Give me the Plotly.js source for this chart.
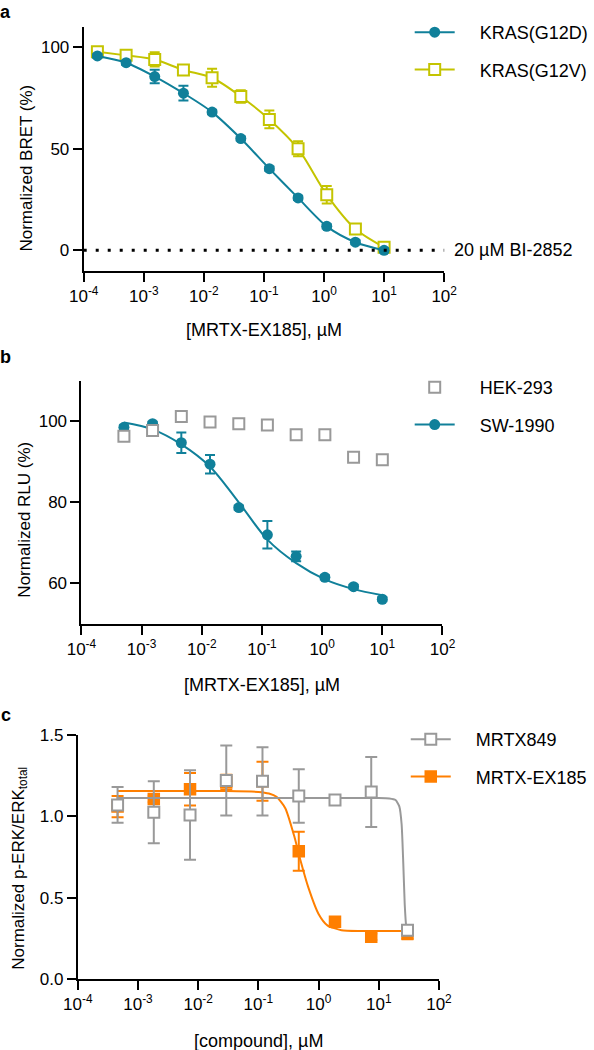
<!DOCTYPE html>
<html><head><meta charset="utf-8">
<script src="https://cdn.plot.ly/plotly-3.0.1.min.js"></script>
<style>html,body{margin:0;padding:0;background:#fff}#chart{width:594px;height:1050px}</style>
</head><body><div id="chart"></div>
<script>
// ---------- shared tick labels ----------
const xTickVals = [1e-4, 1e-3, 1e-2, 1e-1, 1, 10, 100];
const xTickText = ['10<sup>-4</sup>', '10<sup>-3</sup>', '10<sup>-2</sup>', '10<sup>-1</sup>', '10<sup>0</sup>', '10<sup>1</sup>', '10<sup>2</sup>'];

// ---------- panel a : NanoBRET ----------
const concA = [0.000169, 0.000508, 0.00152, 0.00457, 0.0137, 0.0412, 0.123, 0.370, 1.11, 3.33, 10];
const g12dY = [95.6, 92.3, 85.5, 77.3, 68.0, 55.0, 40.2, 25.8, 11.8, 4.0, 0.0];
const g12dErr = [1, 1, 3.3, 3.6, 1, 1, 1, 1, 1, 1, 1];
const g12vY = [97.7, 95.9, 93.9, 88.7, 84.9, 75.7, 64.4, 50.0, 27.3, 10.5, 1.5];
const g12vErr = [1, 1, 3.5, 1, 4.4, 3.1, 4.4, 3.7, 4.3, 1, 1];
const aYTicks = [0, 50, 100];

// ---------- panel b : cell viability ----------
const concB = [0.000508, 0.00152, 0.00457, 0.0137, 0.0412, 0.123, 0.370, 1.11, 3.33, 10];
const swY = [98.5, 99.4, 94.7, 89.4, 78.7, 72.0, 66.7, 61.5, 59.2, 56.1];
const swErr = [0.5, 0.5, 2.5, 2.3, 0.5, 3.4, 1.2, 0.5, 0.5, 0.5];
const hekY = [96.3, 97.7, 101.2, 99.8, 99.4, 99.1, 96.7, 96.7, 91.1, 90.5];
const hekErr = [0.5, 0.5, 1.0, 0.5, 0.5, 0.5, 0.5, 0.5, 0.5, 0.8];
const swFitX = [0.000508, 0.00152, 0.00457, 0.0137, 0.0412, 0.123, 0.370, 1.11, 3.33, 10];
const swFitY = [99.7, 98.0, 94.3, 88.8, 80.0, 70.8, 65.0, 61.0, 58.6, 57.1];
const bYTicks = [60, 80, 100];

// ---------- panel c : p-ERK ----------
const concC = [0.000458, 0.00183, 0.00732, 0.0293, 0.117, 0.469, 1.875, 7.5, 30];
const mrtx849Y = [1.07, 1.025, 1.008, 1.22, 1.215, 1.125, 1.10, 1.15, 0.30];
const mrtx849Err = [0.11, 0.19, 0.275, 0.215, 0.21, 0.165, 0.03, 0.215, 0.03];
const ex185Y = [1.06, 1.106, 1.166, 1.21, 1.216, 0.785, 0.352, 0.26, 0.28];
const ex185Err = [0.065, 0.02, 0.10, 0.045, 0.12, 0.12, 0.02, 0.02, 0.035];
const mrtx849FitX = [0.000458, 1, 10, 15, 19, 22, 24, 25.5, 27, 28.5, 30];
const mrtx849FitY = [1.113, 1.113, 1.113, 1.11, 1.10, 1.06, 0.95, 0.72, 0.46, 0.33, 0.30];
const ex185FitX = [0.000458, 0.03, 0.1, 0.15, 0.2, 0.28, 0.4, 0.5, 0.68, 1.0, 1.4, 2.4, 5, 30];
const ex185FitY = [1.155, 1.155, 1.15, 1.14, 1.12, 1.05, 0.87, 0.73, 0.56, 0.40, 0.33, 0.30, 0.295, 0.295];
const cYTicks = [0, 0.5, 1.0, 1.5];

// ---------- style ----------
const TEAL = '#10809A', YEL = '#C4C400', GRAY = '#999999', ORG = '#FF7F00';
const FONT = 'Arial, "Liberation Sans", sans-serif';
const FS = 17, FT = 18;
const W = 594, H = 1050;
const px = v => v / W, py = v => 1 - v / H;
const PAD = '\u00a0\u00a0\u00a0\u00a0';

function xAxis(l, r, anchor) {
  return {type: 'log', range: [-4, 2], domain: [px(l), px(r)], anchor: anchor,
    tickmode: 'array', tickvals: xTickVals, ticktext: xTickText,
    ticks: 'outside', ticklen: 9, tickwidth: 2, tickcolor: '#000',
    showline: true, linewidth: 2, linecolor: '#000', showgrid: false, zeroline: false,
    tickfont: {size: FS, color: '#000', family: FONT}, fixedrange: true};
}
function yAxis(top, bottom, anchor, range, tv, fmt) {
  return {range: range, domain: [py(bottom), py(top)], anchor: anchor,
    tickmode: 'array', tickvals: tv, tickformat: fmt,
    ticks: 'outside', ticklen: 9, tickwidth: 2, tickcolor: '#000',
    showline: true, linewidth: 2, linecolor: '#000', showgrid: false, zeroline: false,
    tickfont: {size: FS, color: '#000', family: FONT}, fixedrange: true};
}
const errStyle = (arr, c, w) => ({type: 'data', array: arr, visible: true, color: c, thickness: 2, width: w});
const sqOpen = (c, s) => ({symbol: 'square', size: s, color: '#fff', line: {color: c, width: 2}});
const sqFill = (c, s) => ({symbol: 'square', size: s, color: c, line: {width: 0}});
const circ = (c, s) => ({symbol: 'circle', size: s, color: c, line: {width: 0}});

const traces = [
  // panel a
  {x: concA, y: g12vY, name: PAD + 'KRAS(G12V)', mode: 'lines+markers', xaxis: 'x', yaxis: 'y',
   line: {color: YEL, width: 2, shape: 'spline', smoothing: 0.8}, marker: sqOpen(YEL, 11),
   error_y: errStyle(g12vErr, YEL, 5), legend: 'legend', legendgroup: 'g12v', legendrank: 2},
  {x: concA, y: g12dY, name: PAD + 'KRAS(G12D)', mode: 'lines+markers', xaxis: 'x', yaxis: 'y',
   line: {color: TEAL, width: 2, shape: 'spline', smoothing: 0.8}, marker: circ(TEAL, 11),
   error_y: errStyle(g12dErr, TEAL, 5), legend: 'legend', legendgroup: 'g12d', legendrank: 1},
  // panel b
  {x: swFitX, y: swFitY, mode: 'lines', xaxis: 'x2', yaxis: 'y2', showlegend: false,
   line: {color: TEAL, width: 2, shape: 'spline', smoothing: 0.9}},
  {x: concB, y: swY, mode: 'markers', xaxis: 'x2', yaxis: 'y2', showlegend: false,
   marker: circ(TEAL, 11), error_y: errStyle(swErr, TEAL, 5)},
  {x: concB, y: hekY, name: PAD + 'HEK-293', mode: 'markers', xaxis: 'x2', yaxis: 'y2',
   marker: sqOpen(GRAY, 11), error_y: errStyle(hekErr, GRAY, 5),
   legend: 'legend2', legendgroup: 'hek', legendrank: 1},
  {x: [null], y: [null], name: PAD + 'SW-1990', mode: 'lines+markers', xaxis: 'x2', yaxis: 'y2',
   line: {color: TEAL, width: 2}, marker: circ(TEAL, 11),
   legend: 'legend2', legendgroup: 'sw', legendrank: 2},
  // panel c
  {x: ex185FitX, y: ex185FitY, mode: 'lines', xaxis: 'x3', yaxis: 'y3', showlegend: false,
   line: {color: ORG, width: 2, shape: 'spline', smoothing: 0.6}},
  {x: concC, y: ex185Y, mode: 'markers', xaxis: 'x3', yaxis: 'y3', showlegend: false,
   marker: sqFill(ORG, 12.5), error_y: errStyle(ex185Err, ORG, 6)},
  {x: mrtx849FitX, y: mrtx849FitY, mode: 'lines', xaxis: 'x3', yaxis: 'y3', showlegend: false,
   line: {color: GRAY, width: 2, shape: 'spline', smoothing: 0.5}},
  {x: concC, y: mrtx849Y, mode: 'markers', xaxis: 'x3', yaxis: 'y3', showlegend: false,
   marker: sqOpen(GRAY, 11), error_y: errStyle(mrtx849Err, GRAY, 6)},
  {x: [null], y: [null], name: PAD + 'MRTX849', mode: 'lines+markers', xaxis: 'x3', yaxis: 'y3',
   line: {color: GRAY, width: 2}, marker: sqOpen(GRAY, 11),
   legend: 'legend3', legendgroup: 'm849', legendrank: 1},
  {x: [null], y: [null], name: PAD + 'MRTX-EX185', mode: 'lines+markers', xaxis: 'x3', yaxis: 'y3',
   line: {color: ORG, width: 2}, marker: sqFill(ORG, 12.5),
   legend: 'legend3', legendgroup: 'ex185', legendrank: 2}
];

const legendBase = (l, t) => ({x: px(l), y: py(t), xanchor: 'left', yanchor: 'top',
  bgcolor: 'rgba(0,0,0,0)', borderwidth: 0, font: {size: FT, color: '#000', family: FONT},
  tracegroupgap: 11, itemwidth: 40, traceorder: 'grouped'});

const ann = (text, x, y, opts) => Object.assign({text: text, x: px(x), y: py(y), xref: 'paper', yref: 'paper',
  showarrow: false, font: {size: FT, color: '#000', family: FONT}, xanchor: 'center', yanchor: 'middle'}, opts || {});

const layout = {
  width: W, height: H, margin: {l: 0, r: 0, t: 0, b: 0},
  paper_bgcolor: '#fff', plot_bgcolor: 'rgba(0,0,0,0)',
  font: {family: FONT, size: FS, color: '#000'},
  xaxis: xAxis(85, 451, 'y'),
  yaxis: yAxis(26.7, 270.7, 'x', [-10, 110], aYTicks),
  xaxis2: xAxis(82.7, 449.3, 'y2'),
  yaxis2: yAxis(380.7, 624, 'x2', [50, 110], bYTicks),
  xaxis3: xAxis(79, 445.7, 'y3'),
  yaxis3: yAxis(735, 979, 'x3', [0, 1.5], cYTicks, '.1f'),
  legend: legendBase(416, 14),
  legend2: legendBase(416, 369),
  legend3: legendBase(412, 721),
  shapes: [
    {type: 'line', xref: 'x domain', yref: 'y', x0: 0, x1: 1, y0: 0, y1: 0,
     line: {color: '#000', width: 3, dash: '3px,9px'}}
  ],
  annotations: [
    ann('<b>a</b>', 6, 0, {yanchor: 'top', font: {size: FT, color: '#000', family: FONT}}),
    ann('<b>b</b>', 6, 357, {font: {size: FT, color: '#000', family: FONT}}),
    ann('<b>c</b>', 6, 715, {font: {size: FT, color: '#000', family: FONT}}),
    ann('20 µM BI-2852', 459, 250, {xanchor: 'left'}),
    ann('[MRTX-EX185], µM', 268, 330),
    ann('[MRTX-EX185], µM', 266, 685),
    ann('[compound], µM', 262, 1041),
    ann('Normalized BRET (%)', 26, 168, {textangle: -90, font: {size: FS, color: '#000', family: FONT}}),
    ann('Normalized RLU (%)', 24, 520, {textangle: -90, font: {size: FS, color: '#000', family: FONT}}),
    ann('Normalized p-ERK/ERK<sub>total</sub>', 20, 868, {textangle: -90, font: {size: FS, color: '#000', family: FONT}})
  ]
};

Plotly.newPlot('chart', traces, layout, {staticPlot: true, displayModeBar: false});
</script></body></html>
